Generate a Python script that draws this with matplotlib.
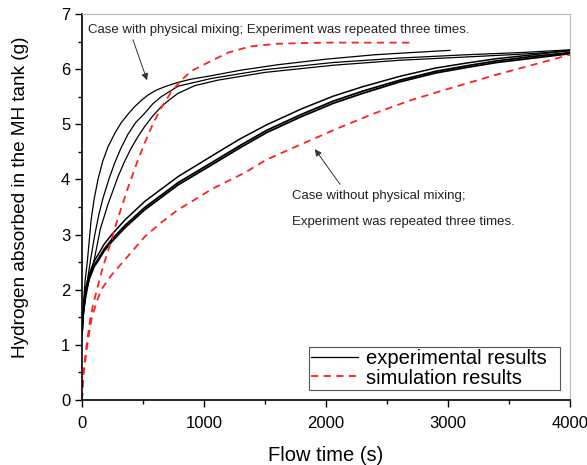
import numpy as np
import matplotlib
matplotlib.use('Agg')
from matplotlib import pyplot as plt

plt.rcParams['font.family'] = ['Liberation Sans', 'DejaVu Sans']

# experimental, with physical mixing (3 runs)
t_mix1 = [0, 10, 25, 45, 75, 100, 131, 170, 213, 270, 322, 380, 432, 490, 541, 610, 678, 787, 900, 1060, 1300, 1607, 2000, 2400, 2700, 3016]
h_mix1 = [1.3, 1.7, 2.15, 2.54, 3.27, 3.65, 4.0, 4.33, 4.59, 4.84, 5.03, 5.19, 5.32, 5.44, 5.53, 5.62, 5.68, 5.76, 5.82, 5.88, 5.98, 6.08, 6.18, 6.26, 6.3, 6.34]
t_mix2 = [0, 10, 30, 50, 70, 105, 140, 172, 220, 268, 320, 377, 440, 514, 580, 650, 787, 1060, 1500, 2060, 2600, 3150, 3600, 4000]
h_mix2 = [1.3, 1.6, 1.95, 2.25, 2.54, 3.0, 3.38, 3.66, 4.0, 4.3, 4.57, 4.82, 5.03, 5.2, 5.37, 5.5, 5.69, 5.83, 5.99, 6.12, 6.2, 6.26, 6.3, 6.35]
t_mix3 = [0, 10, 30, 60, 100, 150, 213, 295, 350, 404, 460, 514, 580, 650, 720, 787, 924, 1115, 1500, 2060, 2600, 3150, 3600, 4000]
h_mix3 = [1.3, 1.55, 1.85, 2.2, 2.54, 3.1, 3.55, 4.05, 4.33, 4.57, 4.78, 4.96, 5.15, 5.32, 5.45, 5.56, 5.7, 5.8, 5.94, 6.07, 6.16, 6.22, 6.27, 6.33]

# experimental, without physical mixing (3 runs)
t_nomix = [0, 10, 30, 60, 100, 131, 180, 240, 350, 514, 787, 1060, 1300, 1514, 1800, 2060, 2300, 2607, 2900, 3153, 3400, 3700, 4000]
h_nomix1 = [1.2, 1.55, 1.95, 2.2, 2.42, 2.52, 2.7, 2.86, 3.12, 3.45, 3.9, 4.26, 4.58, 4.85, 5.14, 5.38, 5.56, 5.77, 5.93, 6.03, 6.12, 6.2, 6.28]
h_nomix2 = [1.2, 1.57, 1.98, 2.23, 2.45, 2.55, 2.73, 2.9, 3.16, 3.49, 3.94, 4.3, 4.62, 4.89, 5.18, 5.42, 5.6, 5.8, 5.96, 6.06, 6.15, 6.23, 6.3]
h_nomix3 = [1.2, 1.6, 2.03, 2.29, 2.52, 2.63, 2.82, 2.99, 3.26, 3.6, 4.05, 4.42, 4.74, 4.99, 5.28, 5.51, 5.68, 5.87, 6.02, 6.11, 6.19, 6.26, 6.34]

# simulation
t_sim1 = [0, 11, 35, 66, 90, 120, 170, 227, 295, 377, 450, 514, 580, 650, 730, 814, 900, 1060, 1200, 1377, 1600, 1975, 2300, 2700]
h_sim1 = [0, 0.48, 0.95, 1.45, 1.72, 1.98, 2.4, 2.8, 3.3, 3.85, 4.3, 4.66, 5.0, 5.3, 5.58, 5.8, 5.97, 6.15, 6.3, 6.41, 6.46, 6.48, 6.48, 6.48]
t_sim2 = [0, 11, 41, 76, 120, 158, 240, 350, 514, 650, 787, 967, 1060, 1333, 1514, 1800, 2100, 2400, 2700, 3000, 3400, 3700, 4000]
h_sim2 = [0, 0.45, 0.96, 1.45, 1.78, 2.0, 2.26, 2.54, 2.96, 3.22, 3.45, 3.69, 3.82, 4.12, 4.36, 4.64, 4.93, 5.2, 5.44, 5.64, 5.9, 6.08, 6.26]

fig = plt.figure(figsize=(5.87, 4.65), dpi=100)
ax = fig.add_axes([0.1397, 0.1398, 0.8313, 0.8302])

exp_kw = dict(color='black', lw=0.9)
l_exp, = ax.plot(t_mix1, h_mix1, **exp_kw)
ax.plot(t_mix2, h_mix2, **exp_kw)
ax.plot(t_mix3, h_mix3, **exp_kw)
ax.plot(t_nomix, h_nomix1, color='black', lw=1.3)
ax.plot(t_nomix, h_nomix2, color='black', lw=1.3)
ax.plot(t_nomix, h_nomix3, color='black', lw=1.1)

sim_kw = dict(color='#ff2020', lw=1.3, ls=(0, (4, 3)))
l_sim, = ax.plot(t_sim1, h_sim1, **sim_kw)
ax.plot(t_sim2, h_sim2, **sim_kw)

ax.set_xlim(0, 4000)
ax.set_ylim(0, 7)
ax.set_xticks([0, 1000, 2000, 3000, 4000])
ax.set_xticks(np.arange(500, 4000, 1000), minor=True)
ax.set_yticks(range(0, 8))
ax.set_yticks(np.arange(0.5, 7, 1), minor=True)
ax.tick_params(direction='out', length=5, width=1, labelsize=12, top=False, right=False)
ax.tick_params(which='minor', direction='out', length=3, width=1, top=False, right=False)
ax.tick_params(axis='x', pad=6.5)
for s in ['left', 'bottom']:
    ax.spines[s].set_linewidth(1.2)
for s in ['top', 'right']:
    ax.spines[s].set_color('#b8b8b8')
    ax.spines[s].set_linewidth(0.8)

ax.set_xlabel('Flow time (s)', fontsize=14.5, labelpad=11)
ax.set_ylabel('Hydrogen absorbed in the MH tank (g)', fontsize=13.7)
ax.yaxis.set_label_coords(-0.108, 0.526)

ax.text(49, 6.71, 'Case with physical mixing; Experiment was repeated three times.',
        fontsize=9.5, va='center', color='#222222')
ax.annotate('', xy=(541, 5.75), xytext=(410, 6.58),
            arrowprops=dict(arrowstyle='-|>', color='#333333', lw=0.7, mutation_scale=10))
ax.text(1718, 3.69, 'Case without physical mixing;', fontsize=9.5, va='center', color='#222222')
ax.text(1718, 3.23, 'Experiment was repeated three times.', fontsize=9.5, va='center', color='#222222')
ax.annotate('', xy=(1896, 4.59), xytext=(2128, 3.87),
            arrowprops=dict(arrowstyle='-|>', color='#333333', lw=0.7, mutation_scale=10))

leg = ax.legend([l_exp, l_sim], ['experimental results', 'simulation results'],
                loc='lower left', bbox_to_anchor=(0.465, 0.026, 0.515, 0.13), mode='expand',
                fontsize=14.5, handlelength=2.3, fancybox=False, framealpha=1,
                borderpad=0.12, labelspacing=0.02, handletextpad=0.4, borderaxespad=0)
leg.get_frame().set_edgecolor('#555555')
leg.get_frame().set_linewidth(0.8)

fig.savefig('out.png', dpi=100)
